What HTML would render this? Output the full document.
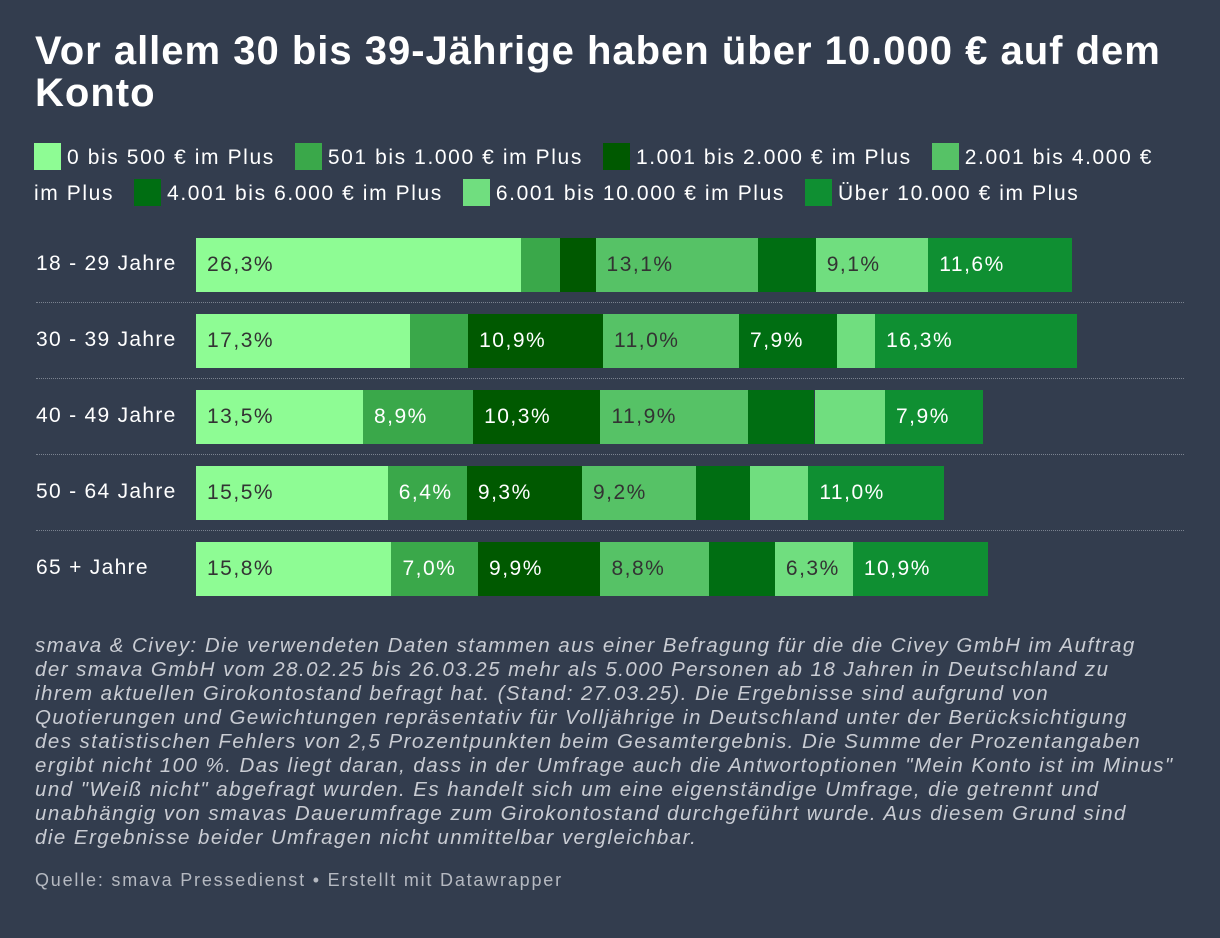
<!DOCTYPE html>
<html><head><meta charset="utf-8">
<style>
body{margin:0;width:1220px;height:938px;background:#333d4e;font-family:"Liberation Sans",sans-serif;color:#fff;overflow:hidden;position:relative}
#title{position:absolute;left:35px;top:30px;width:1170px;font-size:40px;font-weight:bold;line-height:42px;letter-spacing:1px}
#legend{position:absolute;left:34px;top:140px;width:1180px;font-size:21px;line-height:36px;letter-spacing:1.6px;white-space:nowrap}
.li{display:inline-block;margin-right:20px;white-space:nowrap}
.sw{display:inline-block;width:27px;height:27px;vertical-align:-6px;margin-right:6px}
.rl{position:absolute;left:36px;font-size:21px;letter-spacing:1.3px}
.sep{position:absolute;left:36px;width:1148px;border-top:1px dotted #7a828f}
.seg{position:absolute;height:54px;font-size:21px;letter-spacing:1.5px;line-height:54px;box-sizing:border-box;padding-left:11px;white-space:nowrap;overflow:visible}
#note{position:absolute;left:35px;top:634px;width:1180px;font-size:20.5px;font-style:italic;line-height:24px;color:#c9ccd3;letter-spacing:1.45px;white-space:nowrap}
#src{position:absolute;left:35px;top:870px;font-size:18px;color:#b5b9c1;letter-spacing:1.8px}
</style></head><body>
<div id="title">Vor allem 30 bis 39-Jährige haben über 10.000 € auf dem Konto</div>
<div id="legend"></div>
<div id="chart"></div>
<div id="note">smava &amp; Civey: Die verwendeten Daten stammen aus einer Befragung für die die Civey GmbH im Auftrag<br>der smava GmbH vom 28.02.25 bis 26.03.25 mehr als 5.000 Personen ab 18 Jahren in Deutschland zu<br>ihrem aktuellen Girokontostand befragt hat. (Stand: 27.03.25). Die Ergebnisse sind aufgrund von<br>Quotierungen und Gewichtungen repräsentativ für Volljährige in Deutschland unter der Berücksichtigung<br>des statistischen Fehlers von 2,5 Prozentpunkten beim Gesamtergebnis. Die Summe der Prozentangaben<br>ergibt nicht 100 %. Das liegt daran, dass in der Umfrage auch die Antwortoptionen "Mein Konto ist im Minus"<br>und "Weiß nicht" abgefragt wurden. Es handelt sich um eine eigenständige Umfrage, die getrennt und<br>unabhängig von smavas Dauerumfrage zum Girokontostand durchgeführt wurde. Aus diesem Grund sind<br>die Ergebnisse beider Umfragen nicht unmittelbar vergleichbar.</div>
<div id="src">Quelle: smava Pressedienst • Erstellt mit Datawrapper</div>
<script>
const categories=["18 - 29 Jahre","30 - 39 Jahre","40 - 49 Jahre","50 - 64 Jahre","65 + Jahre"];
const seriesNames=["0 bis 500 € im Plus","501 bis 1.000 € im Plus","1.001 bis 2.000 € im Plus","2.001 bis 4.000 € im Plus","4.001 bis 6.000 € im Plus","6.001 bis 10.000 € im Plus","Über 10.000 € im Plus"];
const s1=[26.3,17.3,13.5,15.5,15.8];
const s2=[3.1,4.7,8.9,6.4,7.0];
const s3=[2.9,10.9,10.3,9.3,9.9];
const s4=[13.1,11.0,11.9,9.2,8.8];
const s5=[4.7,7.9,5.4,4.4,5.3];
const s6=[9.1,3.1,5.7,4.7,6.3];
const s7=[11.6,16.3,7.9,11.0,10.9];
const series=[s1,s2,s3,s4,s5,s6,s7];
const colors=["#8efc94","#3aa84a","#005900","#56c266","#006e12","#70de7f","#0f8f32"];
const textCol=["#333","#fff","#fff","#333","#fff","#333","#fff"];
const x0=196, pxPer=12.37, rowTop=238, rowPitch=76, barH=54;
const xs=v=>v*pxPer;
const lg=document.getElementById('legend');
seriesNames.forEach((n,i)=>{
 const d=document.createElement('span');d.className='li';
 
 
 let label=n;
 if(i===3){label=n.replace('€ im','€<br>im');d.style.display='inline';d.style.marginRight='0';}
 d.innerHTML='<span class="sw" style="background:'+colors[i]+'"></span>'+label;
 lg.appendChild(d);
 if(i===3){const sp=document.createElement('span');sp.style.display='inline-block';sp.style.width='20px';lg.appendChild(sp);}
});
const ch=document.getElementById('chart');
categories.forEach((c,r)=>{
 const y=rowTop+r*rowPitch;
 const l=document.createElement('div');l.className='rl';l.style.top=(y+14)+'px';l.textContent=c;
 
 
 ch.appendChild(l);
 if(r>0){const s=document.createElement('div');s.className='sep';s.style.top=(y-rowPitch+64)+'px';
 
 
 ch.appendChild(s);}
 let acc=0;
 series.forEach((ser,i)=>{
  const v=ser[r];
  const b=document.createElement('div');b.className='seg';
  
  
  b.style.left=(x0+xs(acc))+'px';b.style.top=y+'px';b.style.width=xs(v)+'px';
  b.style.background=colors[i];b.style.color=textCol[i];
  if(v>=6)b.textContent=v.toFixed(1).replace('.',',')+'%';
  ch.appendChild(b);acc+=v;
 });
});
</script>
</body></html>
